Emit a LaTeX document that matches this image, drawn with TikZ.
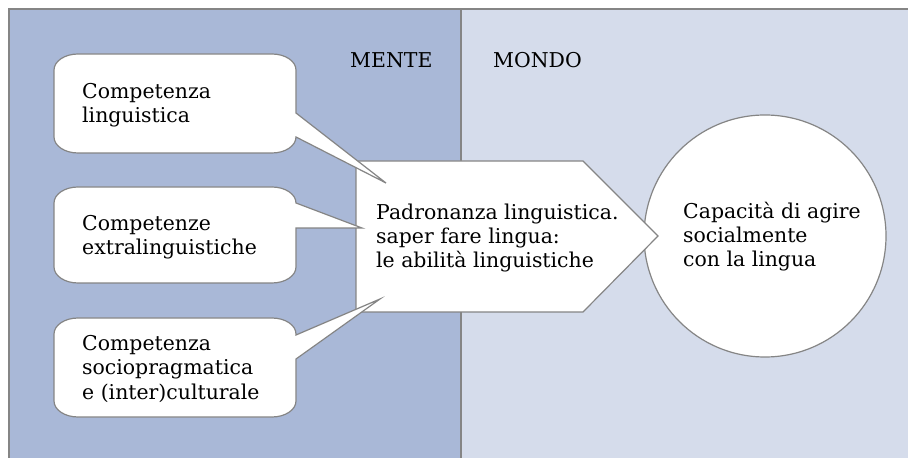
\documentclass[tikz,border=0pt]{standalone}
\usepackage{fontspec}
\setmainfont{DejaVu Serif}
\definecolor{mente}{HTML}{A9B8D7}
\definecolor{mondo}{HTML}{D5DCEB}
\definecolor{edge}{HTML}{858585}
\newcommand{\calloutpath}[6]{(78,#1) -- (272,#1) .. controls (285.25,#1) and (296,#1+7.16) .. (296,#1+16) -- (296,#3) -- (#5,#6) -- (296,#4) -- (296,#2-16) .. controls (296,#2-7.16) and (285.25,#2) .. (272,#2) -- (78,#2) .. controls (64.75,#2) and (54,#2-7.16) .. (54,#2-16) -- (54,#1+16) .. controls (54,#1+7.16) and (64.75,#1) .. (78,#1) -- cycle}
\begin{document}
\begin{tikzpicture}[x=1bp,y=-1bp,
  shapeline/.style={draw=edge, line width=1.2bp, fill=white, line join=miter},
  frameline/.style={draw=edge, line width=1.5bp},
  lbl/.style={inner sep=0, anchor=base west, align=left, font=\fontsize{20.5}{24.5}\selectfont},
]
\useasboundingbox (0,0) rectangle (908,458);
\clip (0,0) rectangle (908,458);
% panels
\fill[mente] (9,9) rectangle (461,470);
\fill[mondo] (461,9) rectangle (920,470);
\draw[frameline] (9,470) -- (9,9) -- (920,9);
\draw[frameline] (461,9) -- (461,470);
\node[lbl] (mente) at (350,68) {MENTE};
\node[lbl] (mondo) at (493,68) {MONDO};
% circle
\draw[shapeline] (765,236) circle[radius=121];
\node[lbl] (capacita) at (683,267) {Capacità di agire\\socialmente\\con la lingua};
% pentagon arrow
\draw[shapeline] (356,161) -- (583,161) -- (658,236) -- (583,312) -- (356,312) -- cycle;
\node[lbl] (padronanza) at (376,268) {Padronanza linguistica.\\saper fare lingua:\\le abilità linguistiche};
% callouts
\draw[shapeline] \calloutpath{54}{153}{113}{137}{386}{183};
\node[lbl] (c1) at (82,123) {Competenza\\linguistica};
\draw[shapeline] \calloutpath{187}{283}{203}{228}{362}{228};
\node[lbl] (c2) at (82,255) {Competenze\\extralinguistiche};
\draw[shapeline] \calloutpath{318}{417}{335}{359}{380}{299};
\node[lbl] (c3) at (82,399) {Competenza\\sociopragmatica\\e (inter)culturale};
\end{tikzpicture}
\end{document}
